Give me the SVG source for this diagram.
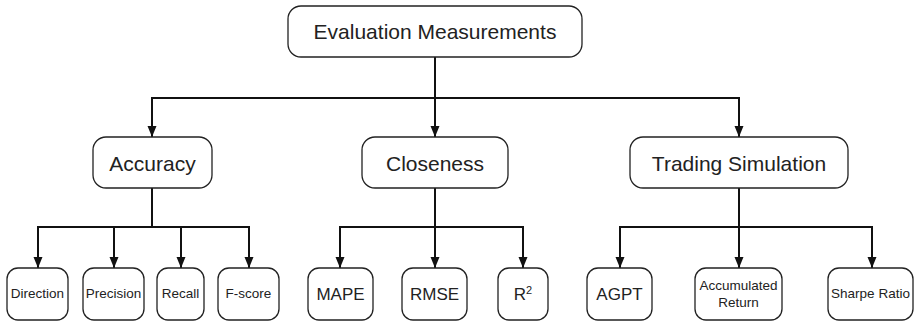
<svg xmlns="http://www.w3.org/2000/svg" width="916" height="322" viewBox="0 0 916 322">
<style>
.box{fill:#fff;stroke:#222;stroke-width:1.3}
.t{font-family:"Liberation Sans",Arial,sans-serif;fill:#222;text-anchor:middle}
.l1{font-size:21px}
.l3{font-size:13.5px}
.l3b{font-size:17px}
.c{fill:none;stroke:#111;stroke-width:2}
</style>
<defs>
<marker id="ah" markerUnits="userSpaceOnUse" markerWidth="12" markerHeight="12" viewBox="0 0 12 12" refX="11" refY="6" orient="auto">
<path d="M0,1.5 L11,6 L0,10.5 Z" fill="#111"/>
</marker>
</defs>
<g id="connectors">
<path class="c" d="M435,57 V98"/>
<path class="c" d="M152,98 H739"/>
<path class="c" d="M152,97 V137" marker-end="url(#ah)"/>
<path class="c" d="M435,98 V137" marker-end="url(#ah)"/>
<path class="c" d="M739,97 V137" marker-end="url(#ah)"/>
<path class="c" d="M152,188 V227"/>
<path class="c" d="M38,227 H249"/>
<path class="c" d="M38,226 V268" marker-end="url(#ah)"/>
<path class="c" d="M114,227 V268" marker-end="url(#ah)"/>
<path class="c" d="M181,227 V268" marker-end="url(#ah)"/>
<path class="c" d="M249,226 V268" marker-end="url(#ah)"/>
<path class="c" d="M435,188 V227"/>
<path class="c" d="M340,227 H523"/>
<path class="c" d="M340,226 V268" marker-end="url(#ah)"/>
<path class="c" d="M435,227 V268" marker-end="url(#ah)"/>
<path class="c" d="M523,226 V268" marker-end="url(#ah)"/>
<path class="c" d="M739,188 V227"/>
<path class="c" d="M620,227 H872"/>
<path class="c" d="M620,226 V268" marker-end="url(#ah)"/>
<path class="c" d="M739,227 V268" marker-end="url(#ah)"/>
<path class="c" d="M872,226 V268" marker-end="url(#ah)"/>
</g>
<g id="evaluation">
<rect class="box" x="288" y="6" width="294" height="51" rx="13"/>
<text class="t l1" x="435" y="39">Evaluation Measurements</text>
</g>
<g id="accuracy">
<rect class="box" x="93" y="137" width="119" height="51" rx="13"/>
<text class="t l1" x="152.5" y="171">Accuracy</text>
</g>
<g id="closeness">
<rect class="box" x="362" y="137" width="146" height="51" rx="13"/>
<text class="t l1" x="435" y="171">Closeness</text>
</g>
<g id="trading">
<rect class="box" x="630" y="137" width="218" height="51" rx="13"/>
<text class="t l1" x="739" y="171">Trading Simulation</text>
</g>
<g id="direction">
<rect class="box" x="7" y="268" width="61" height="52" rx="11"/>
<text class="t l3" x="37.5" y="298">Direction</text>
</g>
<g id="precision">
<rect class="box" x="83" y="268" width="61" height="52" rx="11"/>
<text class="t l3" x="113.5" y="298">Precision</text>
</g>
<g id="recall">
<rect class="box" x="157" y="268" width="47" height="52" rx="11"/>
<text class="t l3" x="180.5" y="298">Recall</text>
</g>
<g id="fscore">
<rect class="box" x="218" y="268" width="61" height="52" rx="11"/>
<text class="t l3" x="248.5" y="298">F-score</text>
</g>
<g id="mape">
<rect class="box" x="308" y="268" width="65" height="52" rx="11"/>
<text class="t l3b" x="340.5" y="300">MAPE</text>
</g>
<g id="rmse">
<rect class="box" x="402" y="268" width="65" height="52" rx="11"/>
<text class="t l3b" x="434.5" y="300">RMSE</text>
</g>
<g id="r2">
<rect class="box" x="498" y="268" width="50" height="52" rx="11"/>
<text class="t l3b" x="523" y="300">R<tspan font-size="11" dy="-6">2</tspan></text>
</g>
<g id="agpt">
<rect class="box" x="587" y="268" width="65" height="52" rx="11"/>
<text class="t l3b" x="619.5" y="300">AGPT</text>
</g>
<g id="accumulated">
<rect class="box" x="695" y="268" width="87" height="52" rx="11"/>
<text class="t l3" x="738.5" y="290">Accumulated</text>
<text class="t l3" x="738.5" y="307">Return</text>
</g>
<g id="sharpe">
<rect class="box" x="828" y="268" width="85" height="52" rx="11"/>
<text class="t l3" x="870.5" y="298">Sharpe Ratio</text>
</g>
</svg>
